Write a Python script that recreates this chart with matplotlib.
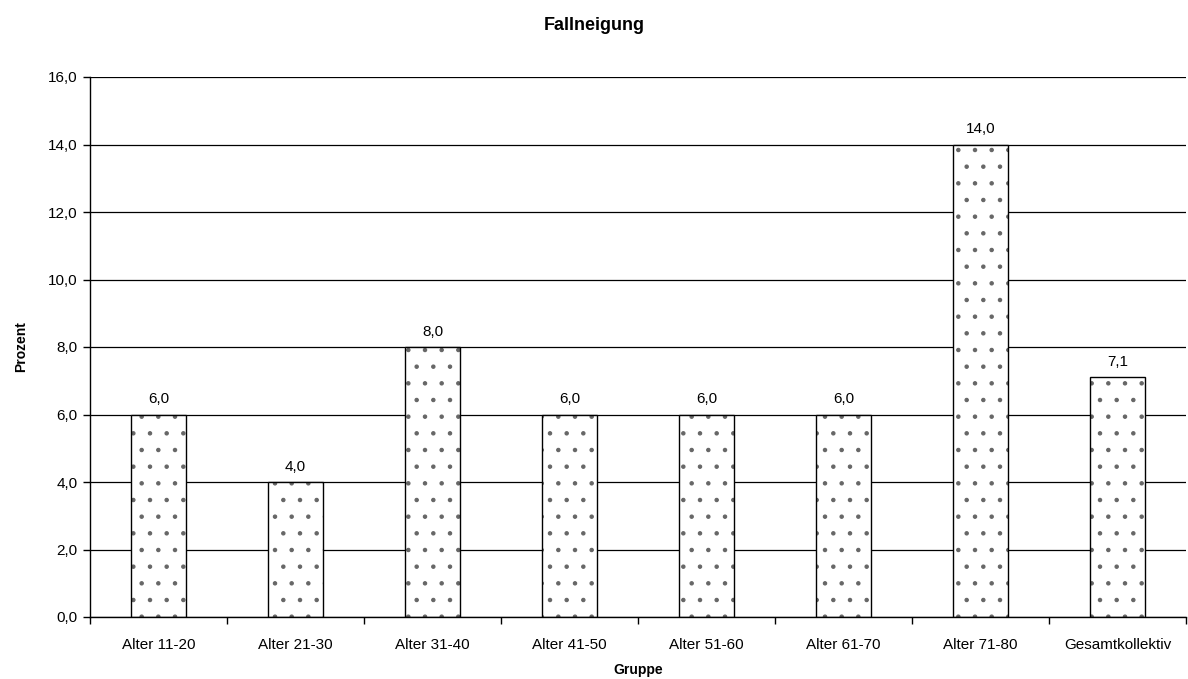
import matplotlib
matplotlib.use("Agg")
import matplotlib.pyplot as plt
import numpy as np

categories = ["Alter 11-20", "Alter 21-30", "Alter 31-40", "Alter 41-50",
              "Alter 51-60", "Alter 61-70", "Alter 71-80", "Gesamtkollektiv"]
values = [6.0, 4.0, 8.0, 6.0, 6.0, 6.0, 14.0, 7.1]
y_ticks = [0, 2, 4, 6, 8, 10, 12, 14, 16]

plt.rcParams["font.family"] = ["Liberation Sans", "DejaVu Sans"]
plt.rcParams["hatch.linewidth"] = 0.8

fig = plt.figure(figsize=(11.88, 6.79), dpi=100)
ax = fig.add_axes([90 / 1188, 1 - 617 / 679, 1096 / 1188, 540 / 679])

x = np.arange(len(categories))
width = 0.4

# dotted fill, then a black outline on top
ax.bar(x, values, width, color="white", edgecolor="#666666", hatch=".",
       linewidth=0, zorder=2)
ax.bar(x, values, width, fill=False, edgecolor="black", linewidth=1.0, zorder=3)

for xi, v in zip(x, values):
    ax.text(xi, v + 0.25, f"{v:.1f}".replace(".", ","), ha="center", va="bottom",
            fontsize=11, color="black")

ax.set_xlim(-0.5, len(categories) - 0.5)
ax.set_ylim(0, 16)
ax.set_yticks(y_ticks)
ax.set_yticklabels([f"{t:.1f}".replace(".", ",") for t in y_ticks], fontsize=11)
ax.yaxis.grid(True, color="black", linewidth=0.9)
ax.set_axisbelow(True)

ax.set_xticks(x)
ax.set_xticklabels(categories, fontsize=11)
ax.tick_params(axis="x", which="major", length=0, pad=15)
ax.set_xticks(np.arange(len(categories) + 1) - 0.5, minor=True)
ax.tick_params(axis="x", which="minor", length=5, width=1, direction="out")
ax.tick_params(axis="y", length=5, width=1, direction="out", pad=4)

for side in ["top", "right"]:
    ax.spines[side].set_visible(False)
for side in ["left", "bottom"]:
    ax.spines[side].set_linewidth(1.0)

ax.set_xlabel("Gruppe", fontsize=10, fontweight="bold", labelpad=8)
ax.set_ylabel("Prozent", fontsize=10, fontweight="bold", labelpad=14)
fig.text(0.5, 1 - 26 / 679, "Fallneigung", ha="center", va="center",
         fontsize=13, fontweight="bold")

fig.savefig("out.png", dpi=100, facecolor="white")
